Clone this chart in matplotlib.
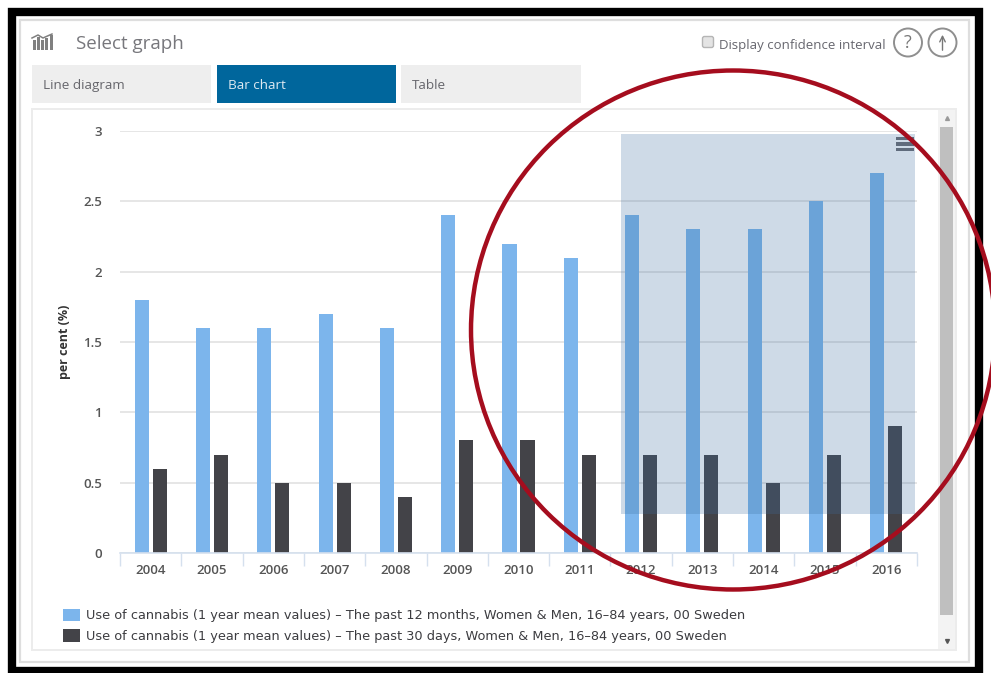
import matplotlib
matplotlib.use("Agg")
import matplotlib.pyplot as plt
from matplotlib.patches import Rectangle, Ellipse, Circle, FancyBboxPatch

years = ["2004", "2005", "2006", "2007", "2008", "2009", "2010",
         "2011", "2012", "2013", "2014", "2015", "2016"]
past_12_months = [1.8, 1.6, 1.6, 1.7, 1.6, 2.4, 2.2, 2.1, 2.4, 2.3, 2.3, 2.5, 2.7]
past_30_days = [0.6, 0.7, 0.5, 0.5, 0.4, 0.8, 0.8, 0.7, 0.7, 0.7, 0.5, 0.7, 0.9]
y_ticks = [0, 0.5, 1, 1.5, 2, 2.5, 3]
y_tick_labels = ["0", "0.5", "1", "1.5", "2", "2.5", "3"]
tab_labels = ["Line diagram", "Bar chart", "Table"]
legend_labels = [
    "Use of cannabis (1 year mean values) \u2013 The past 12 months, Women & Men, 16\u201384 years, 00 Sweden",
    "Use of cannabis (1 year mean values) \u2013 The past 30 days, Women & Men, 16\u201384 years, 00 Sweden",
]

W, H = 991, 673
BLUE = "#7cb5ec"
DARK = "#434348"
plt.rcParams["font.family"] = ["Open Sans", "DejaVu Sans"]

fig = plt.figure(figsize=(W / 100, H / 100), dpi=100, facecolor="white")


def px_axes(left, top, right, bottom, zorder):
    return fig.add_axes([left / W, 1 - bottom / H, (right - left) / W, (bottom - top) / H],
                        zorder=zorder)


# page furniture, drawn in pixel coordinates
bg = px_axes(0, 0, W, H, 0)
bg.set_xlim(0, W)
bg.set_ylim(H, 0)
bg.axis("off")


def box(ax, x0, y0, x1, y1, **kw):
    ax.add_patch(Rectangle((x0, y0), x1 - x0, y1 - y0, **kw))


box(bg, 11.5, 11.5, 979, 670.5, fc="white", ec="black", lw=6)
box(bg, 20, 20, 969, 662, fc="white", ec="#dedede", lw=1.6)
box(bg, 32, 109, 956, 650, fc="white", ec="#ececec", lw=1.4)

bg.text(76, 44, "Select graph", fontsize=13.5, color="#77777c", va="center", ha="left")

# small chart icon
for x, top in [(33, 40), (37, 37), (41, 40), (45, 38), (50, 35)]:
    box(bg, x, top, x + 2.5, 50, fc="#808080", ec="none")
bg.plot([32, 38, 43, 52], [38, 35, 38, 34], color="#808080", lw=1.1)

# tabs
tab_x = [(32, 211), (217, 396), (401, 581)]
for i, (x0, x1) in enumerate(tab_x):
    active = i == 1
    box(bg, x0, 65, x1, 103, fc="#00669c" if active else "#eeeeee", ec="none")
    bg.text(x0 + 11, 85.5, tab_labels[i], fontsize=9.7, va="center", ha="left",
            color="#dfeaf2" if active else "#66666c")

# confidence checkbox and round buttons
bg.add_patch(FancyBboxPatch((703, 37), 10, 10, boxstyle="round,pad=0.5,rounding_size=2",
                            fc="#e4e4e4", ec="#b5b5b5", lw=1))
bg.text(719, 45, "Display confidence interval", fontsize=9.5, color="#66666e",
        va="center", ha="left")
for cx in (908, 942.5):
    bg.add_patch(Circle((cx, 42.5), 14, fc="white", ec="#8f8f8f", lw=1.4))
bg.text(908, 42.5, "?", fontsize=13, color="#777777", ha="center", va="center")
bg.annotate("", xy=(942.5, 32), xytext=(942.5, 53),
            arrowprops=dict(arrowstyle="->", color="#777777", lw=1, mutation_scale=10))

# scrollbar
box(bg, 938, 110, 955, 649, fc="#f3f3f3", ec="none")
box(bg, 940, 127, 953, 615, fc="#bfbfbf", ec="none")
bg.plot([946.5], [118], marker="^", ms=2.8, color="#999999")
bg.plot([946.5], [641], marker="v", ms=2.8, color="#555555")

# the chart itself
ax = px_axes(120, 131, 917, 553, 1)
ax.patch.set_alpha(0)
x = list(range(len(years)))
bar_w = 0.229
off = 0.147
ax.bar([v - off for v in x], past_12_months, bar_w, color=BLUE, label=legend_labels[0], zorder=2)
ax.bar([v + off for v in x], past_30_days, bar_w, color=DARK, label=legend_labels[1], zorder=2)
ax.set_xlim(-0.5, len(years) - 0.5)
ax.set_ylim(0, 3)
ax.set_yticks(y_ticks)
ax.set_yticklabels(y_tick_labels, fontsize=9.5, fontweight="semibold", color="#555555")
ax.set_xticks(x)
ax.set_xticklabels(years, fontsize=9.5, fontweight="semibold", color="#555555")
ax.set_xticks([v - 0.5 for v in x] + [len(years) - 0.5], minor=True)
ax.tick_params(axis="x", which="major", length=0, pad=8)
ax.tick_params(axis="x", which="minor", length=9, width=1, color="#d5e0ee")
ax.tick_params(axis="y", length=0, pad=13)
ax.grid(axis="y", color="#e2e2e2", lw=1.2, zorder=0)
ax.set_axisbelow(True)
for side in ("top", "left", "right"):
    ax.spines[side].set_visible(False)
ax.spines["bottom"].set_color("#d5e0ee")
ax.spines["bottom"].set_linewidth(1.2)
ax.set_ylabel("per cent (%)", fontsize=9, fontweight="bold", color="#333333", labelpad=0)
ax.yaxis.set_label_coords((71 - 120) / (917 - 120), 0.5)

leg = ax.legend(loc="upper left", bbox_to_anchor=((63 - 120) / 797, (553 - 608.5) / 422),
                frameon=False, ncol=1, handlelength=1.32, handleheight=1.15,
                handletextpad=0.45, labelspacing=0.56, borderpad=0, borderaxespad=0,
                prop={"family": "DejaVu Sans", "size": 9.25, "weight": "normal"})
for t in leg.get_texts():
    t.set_color("#3c3c40")

# drag selection, hamburger and hand-drawn ring on top
top = px_axes(0, 0, W, H, 2)
top.set_xlim(0, W)
top.set_ylim(H, 0)
top.axis("off")
top.patch.set_alpha(0)
box(top, 621, 134, 915, 514, fc="#3c6ea0", alpha=0.25, ec="none")
for y in (138.5, 144, 149.5):
    box(top, 896, y - 1.6, 914, y + 1.6, fc="#5f6b7c", ec="none")
top.add_patch(Ellipse((733, 330), 524, 519, fc="none", ec="#a50d1e", lw=3.2, clip_on=False))

fig.savefig("out.png", dpi=100, facecolor="white")
